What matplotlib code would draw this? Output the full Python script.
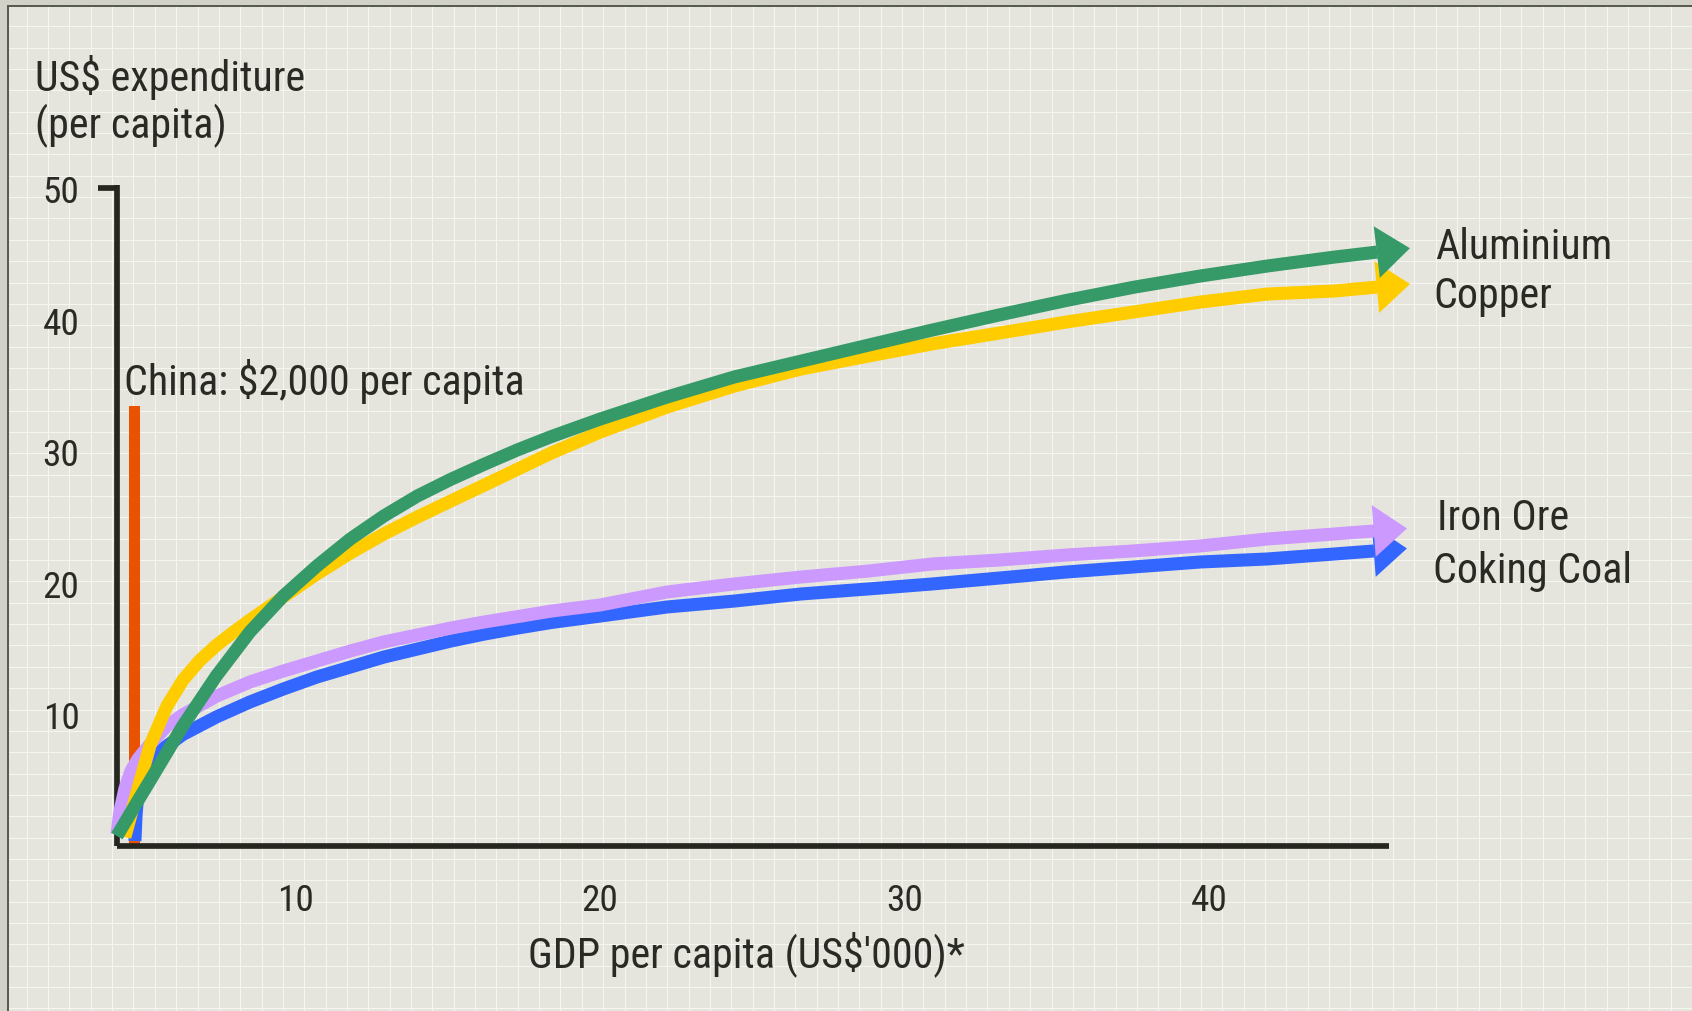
import matplotlib
matplotlib.use("Agg")
import matplotlib.pyplot as plt
from matplotlib import font_manager
from matplotlib.patches import Rectangle
import numpy as np

# ---------------- data ----------------
mid_grid = [9.6, 10.7, 11.8, 12.9, 14.0, 15.1, 16.2, 17.3, 18.4, 20.0, 22.2, 24.4,
            26.6, 28.8, 30.9, 33.1, 35.3, 37.5, 39.7, 41.9, 44.1]

aluminium_x = [4.14, 4.8, 5.2, 6.3, 7.4, 8.5] + mid_grid + [45.5]
aluminium = [0.72, 3.3, 4.83, 9.09, 12.89, 16.24, 18.97, 21.25, 23.31, 25.06, 26.58,
             27.85, 29.0, 30.1, 31.1, 32.43, 34.11, 35.63, 36.84, 38.05, 39.2,
             40.35, 41.45, 42.45, 43.31, 44.07, 44.75, 45.13]

copper_x = [4.4, 4.83, 5.23, 5.78, 6.31, 6.87, 7.42, 7.95, 8.51] + mid_grid + [45.5]
copper = [0.65, 4.30, 7.64, 10.6, 12.6, 14.1, 15.25, 16.2, 17.15, 18.90, 20.65,
          22.24, 23.69, 24.98, 26.20, 27.41, 28.63, 29.85, 31.44, 33.35, 34.94,
          36.24, 37.22, 38.15, 38.97, 39.81, 40.57, 41.33, 41.94, 42.17, 42.47]

iron_ore_x = [4.14, 4.24, 4.4, 4.6, 4.83, 5.23, 5.78, 6.31, 7.42, 8.5] + mid_grid + [45.4]
iron_ore = [0.87, 2.62, 4.30, 5.67, 6.58, 7.72, 9.09, 9.95, 11.37, 12.43, 13.27,
            14.03, 14.79, 15.48, 16.01, 16.54, 17.00, 17.41, 17.83, 18.29, 19.28,
            19.89, 20.42, 20.87, 21.41, 21.71, 22.09, 22.40, 22.78, 23.31, 23.69, 23.92]

coking_coal_x = [4.73, 4.77, 4.83, 4.99, 5.23, 5.55, 6.31, 7.4, 8.5] + mid_grid + [45.4]
coking_coal = [0.34, 2.40, 4.07, 5.36, 6.35, 7.19, 8.45, 9.77, 10.91, 11.90, 12.81,
               13.57, 14.33, 14.94, 15.55, 16.08, 16.54, 16.96, 17.45, 18.14, 18.59,
               19.13, 19.51, 19.89, 20.34, 20.80, 21.18, 21.56, 21.79, 22.17, 22.40]

china_gdp = 4.72
china_value = 33.46

series_names = ["Aluminium", "Copper", "Iron Ore", "Coking Coal"]
x_ticks = [10, 20, 30, 40]
y_ticks = [10, 20, 30, 40, 50]

# ---------------- fonts ----------------
W, H, DPI = 1692, 1012, 100
entries = font_manager.fontManager.ttflist
names = {f.name for f in entries}
FONT, STRETCH = "DejaVu Sans", "normal"
for nm in ["Liberation Sans Narrow", "Arial Narrow", "Roboto Condensed",
           "Open Sans Condensed", "Noto Sans Condensed", "DejaVu Sans Condensed"]:
    if nm in names:
        FONT, STRETCH = nm, "normal"
        break
else:
    found = False
    for nm in ["Roboto", "Noto Sans", "Open Sans", "Liberation Sans", "DejaVu Sans", "Lato", "Inter"]:
        for f in entries:
            if (f.name == nm and f.style == "normal" and f.weight in (400, "normal")
                    and str(f.stretch) in ("condensed", "semi-condensed", "extra-condensed")):
                FONT, STRETCH = nm, f.stretch
                found = True
                break
        if found:
            break
plt.rcParams["font.family"] = [FONT, "DejaVu Sans"]
plt.rcParams["font.stretch"] = STRETCH

TXT = "#2a2a24"
AX = "#262620"
GREEN = "#359a68"
YELLOW = "#ffcc00"
PURPLE = "#cc99ff"
BLUE = "#3366ff"
ORANGE = "#e85200"
BG = "#e5e5de"
GRID = "#f6f6f1"
LW = 9.4

fig = plt.figure(figsize=(W / DPI, H / DPI), dpi=DPI, facecolor=BG)
renderer = fig.canvas.get_renderer()


def fit_size(s, target_px, base):
    t = fig.text(0, 0, s, fontsize=base)
    w = t.get_window_extent(renderer).width
    t.remove()
    return base * target_px / w


BIG = fit_size("China: $2,000 per capita", 400, 30.0)
TICK = fit_size("20", 33, 25.0) * 1.12

# background: texture grid and frame
bg = fig.add_axes([0, 0, 1, 1], zorder=-10)
bg.set_xlim(0, W)
bg.set_ylim(H, 0)
bg.axis("off")
bg.add_patch(Rectangle((0, 0), W, H, color=BG, lw=0, zorder=0))
vx = np.arange(26.7 - 21.35, W, 21.35)
hy = np.arange(27.3 - 21.35, H, 21.35)
bg.vlines(vx, 0, H, color=GRID, lw=0.75, zorder=1)
bg.hlines(hy, 0, W, color=GRID, lw=0.75, zorder=1)
bg.add_patch(Rectangle((0, 0), W, 6, color="#d2d2c8", lw=0, zorder=5))
bg.add_patch(Rectangle((0, 0), 7, H, color="#d2d2c8", lw=0, zorder=5))
bg.add_patch(Rectangle((7, 6), W, 2, color="#575b52", lw=0, zorder=6))
bg.add_patch(Rectangle((7, 6), 2, H, color="#575b52", lw=0, zorder=6))

# main axes
left_px, right_px, base_px, top_px = 117, 1389, 846.5, 186.4
ax = fig.add_axes([left_px / W, (H - base_px) / H,
                   (right_px - left_px) / W, (base_px - top_px) / H])
ax.set_facecolor("none")
ax.set_xlim(4.142, 45.89)
ax.set_ylim(0, 50.2)
for s in ["top", "right"]:
    ax.spines[s].set_visible(False)
for s in ["left", "bottom"]:
    ax.spines[s].set_linewidth(4.1)
    ax.spines[s].set_color(AX)
    ax.spines[s].set_capstyle("butt")

ax.set_xticks(x_ticks)
ax.set_xticklabels([str(v) for v in x_ticks])
ax.set_yticks(y_ticks)
ax.set_yticklabels([str(v) for v in y_ticks])
ax.tick_params(axis="both", length=0, labelsize=TICK, labelcolor=TXT)
ax.tick_params(axis="x", pad=26)
ax.tick_params(axis="y", pad=27)
ax.yaxis.remove_overlapping_locs = False
ax.set_yticks([50], minor=True)
ax.tick_params(axis="y", which="minor", length=13.7, width=4.1, color=AX,
               direction="out")

# China bar
ax.bar([china_gdp], [china_value], width=0.35, color=ORANGE, zorder=2, clip_on=False)

series = [
    (coking_coal_x, coking_coal, BLUE, 3),
    (iron_ore_x, iron_ore, PURPLE, 4),
    (copper_x, copper, YELLOW, 5),
    (aluminium_x, aluminium, GREEN, 6),
]
for xs, ys, c, z in series:
    ax.plot(xs, ys, color=c, lw=LW, solid_capstyle="butt", solid_joinstyle="round",
            clip_on=False, zorder=z)
    p1 = ax.transData.transform((xs[-2], ys[-2]))
    p2 = ax.transData.transform((xs[-1], ys[-1]))
    d = (p2 - p1) / np.hypot(*(p2 - p1))
    tip = ax.transData.inverted().transform(p2 + d * 33)
    ax.annotate("", xy=tuple(tip), xytext=(xs[-1], ys[-1]),
                arrowprops=dict(arrowstyle="-|>,head_length=24,head_width=18.7",
                                mutation_scale=1, color=c, lw=0,
                                shrinkA=0, shrinkB=0),
                annotation_clip=False, zorder=z + 0.5)


def ftext(x, y, s, **kw):
    fig.text(x / W, 1 - y / H, s, color=TXT, va="baseline", fontsize=BIG, **kw)


ftext(35, 91, "US$ expenditure")
ftext(35, 138, "(per capita)")
ftext(124, 395, "China: $2,000 per capita")
ftext(1435, 259, series_names[0])
ftext(1433, 308, series_names[1])
ftext(1437, 530, series_names[2])
ftext(1433, 583, series_names[3])
ftext(746, 967, "GDP per capita (US$\u2032000)*", ha="center")

fig.savefig("out.png", dpi=DPI, facecolor=BG)
